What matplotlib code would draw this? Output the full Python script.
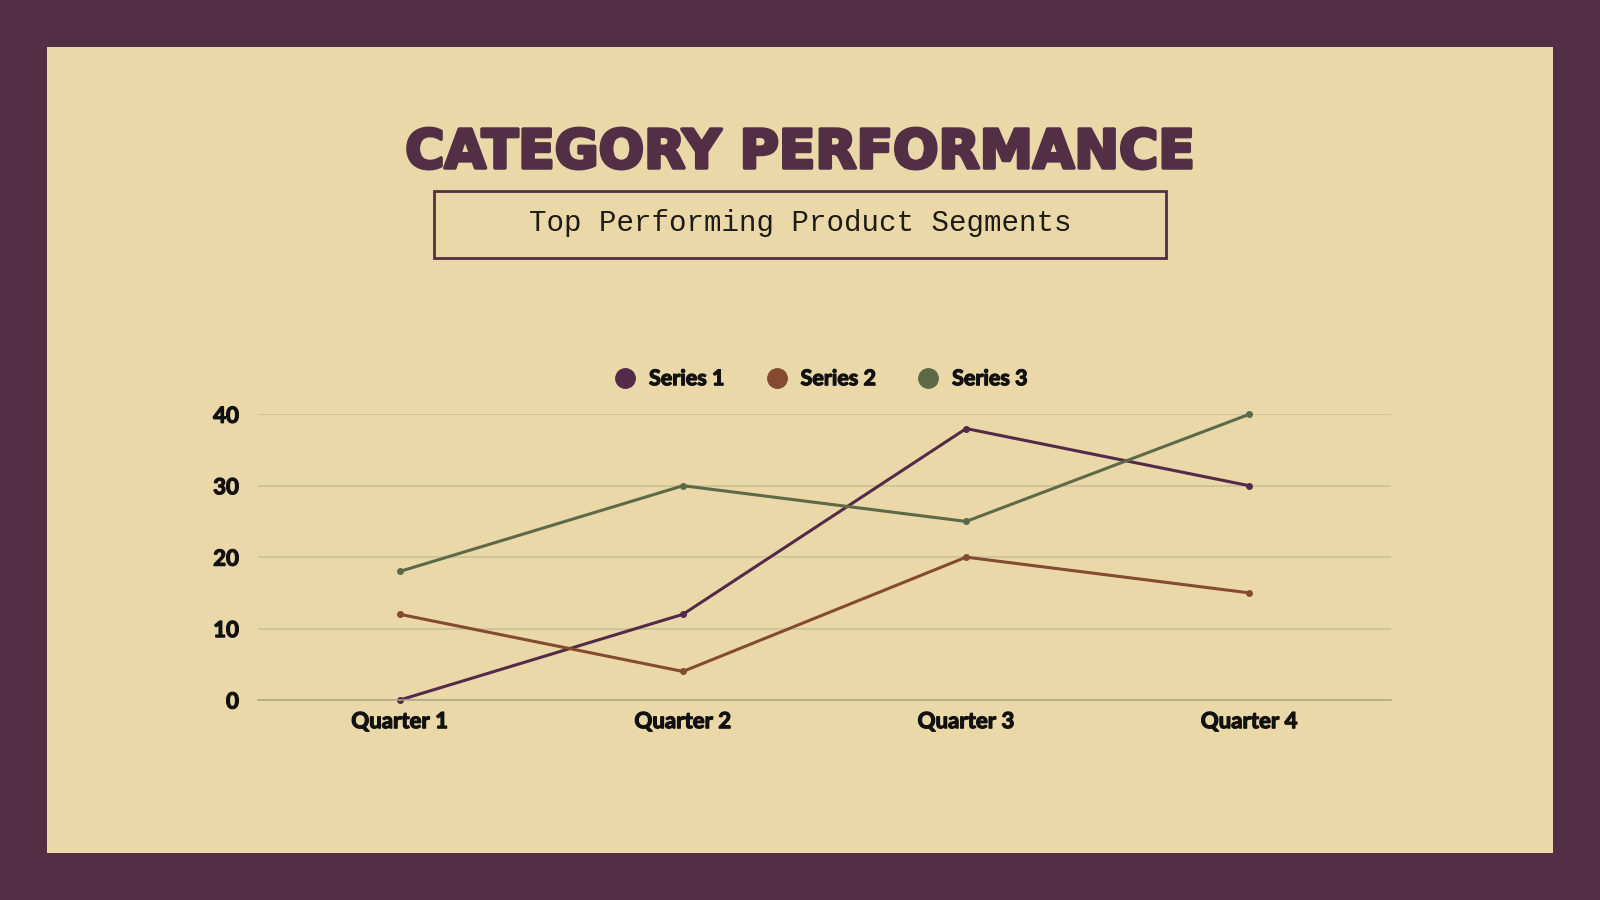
import matplotlib.pyplot as plt
import matplotlib.patches as patches
import matplotlib.patheffects as pe
from matplotlib.lines import Line2D

# chart data
quarters = ["Quarter 1", "Quarter 2", "Quarter 3", "Quarter 4"]
series_names = ["Series 1", "Series 2", "Series 3"]
series_1 = [0, 12, 38, 30]
series_2 = [12, 4, 20, 15]
series_3 = [18, 30, 25, 40]
y_ticks = [0, 10, 20, 30, 40]

FRAME = "#522F44"
PAPER = "#EAD8A9"
INK = "#111111"
colors = ["#532B48", "#844B30", "#5C6A47"]

fig = plt.figure(figsize=(16, 9), dpi=100, facecolor=FRAME)

# beige card inside the dark frame
card = patches.Rectangle((0.0293, 0.052), 0.9414, 0.896, transform=fig.transFigure,
                         facecolor=PAPER, edgecolor="none", zorder=-10)
fig.patches.append(card)

title = fig.text(0.5, 0.830, "CATEGORY PERFORMANCE", ha="center", va="center",
                 fontsize=38.5, fontweight="bold", family="DejaVu Sans", color=FRAME)
title.set_path_effects([pe.withStroke(linewidth=2.5, foreground=FRAME)])

box = patches.Rectangle((0.271, 0.713), 0.458, 0.075, transform=fig.transFigure,
                        facecolor="none", edgecolor=FRAME, linewidth=2, zorder=-5)
fig.patches.append(box)
fig.text(0.5, 0.752, "Top Performing Product Segments", ha="center", va="center",
         fontsize=21, family="Liberation Mono", color="#1E1A14")

ax = fig.add_axes([0.1614, 0.2222, 0.7079, 0.3175])
ax.set_facecolor("none")

x = range(len(quarters))
for vals, name, c in zip([series_1, series_2, series_3], series_names, colors):
    ax.plot(x, vals, color=c, linewidth=2.2, marker="o", markersize=4, label=name,
            clip_on=False)

ax.set_xlim(-0.5, 3.5)
ax.set_ylim(0, 40)
ax.set_yticks(y_ticks)
ax.set_xticks(list(x))
ax.set_xticklabels(quarters)
ax.grid(axis="y", color="#C9BE97", linewidth=1.1)
ax.set_axisbelow(True)
for s in ["top", "right", "left"]:
    ax.spines[s].set_visible(False)
ax.spines["bottom"].set_color("#B0A585")
ax.spines["bottom"].set_linewidth(1.1)
ax.tick_params(length=0, pad=14)
ax.tick_params(axis="x", pad=8)
heavy = [pe.withStroke(linewidth=0.9, foreground=INK)]
for lbl in ax.get_xticklabels() + ax.get_yticklabels():
    lbl.set_family("Lato")
    lbl.set_fontweight("bold")
    lbl.set_fontsize(16)
    lbl.set_color(INK)
    lbl.set_path_effects(heavy)

handles = [Line2D([], [], linestyle="none", marker="o", markersize=14, color=c) for c in colors]
leg = ax.legend(handles, series_names, loc="lower center", bbox_to_anchor=(0.492, 1.02),
                ncol=3, frameon=False, handletextpad=0.1, columnspacing=1.45,
                prop={"family": "Lato", "weight": "bold", "size": 15.5})
for t in leg.get_texts():
    t.set_color(INK)
    t.set_path_effects(heavy)

fig.savefig("out.png", dpi=100, facecolor=FRAME)
